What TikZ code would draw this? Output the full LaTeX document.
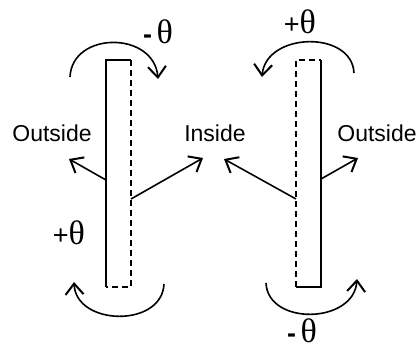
\documentclass[tikz,border=0pt]{standalone}
\usepackage{fontspec}
\setmainfont{Liberation Sans}
\newfontfamily\thetafont{Liberation Serif}
\usetikzlibrary{arrows.meta}

\begin{document}
\begin{tikzpicture}[
  x=0.5pt, y=-0.5pt,
  >={Straight Barb[length=5.5pt,width=9pt,line width=1pt]},
  slabline/.style={line width=1pt},
  slabdash/.style={line width=1pt, dash pattern=on 3pt off 2pt},
  ray/.style={->, line width=0.8pt},
  spin/.style={->, line width=0.8pt},
  lbl/.style={inner sep=0pt, font=\fontsize{11.5}{13}\selectfont},
  ang/.style={inner sep=0pt, font=\fontsize{13.5}{15}\selectfont},
]
\useasboundingbox (0,0) rectangle (420,348);

% left slab (solid outside, dashed inside)
\coordinate (L1) at (106,60);
\coordinate (L2) at (131,60);
\coordinate (L3) at (131,287);
\coordinate (L4) at (106,287);
\draw[slabline] (L4) -- (L1) -- (L2);
\draw[slabdash] (L2) -- (L3) -- (L4);

% right slab (mirror)
\coordinate (R1) at (296,60);
\coordinate (R2) at (321,60);
\coordinate (R3) at (321,287);
\coordinate (R4) at (296,287);
\draw[slabline] (R2) -- (R3) -- (R4);
\draw[slabdash] (R4) -- (R1) -- (R2);

% side labels
\node[lbl] (outL) at (52,133) {Outside};
\node[lbl] (ins)  at (215,133) {Inside};
\node[lbl] (outR) at (377,133) {Outside};

% normals
\coordinate (aL) at (106,180);  \coordinate (tL) at (69,159);
\coordinate (bL) at (131,199);  \coordinate (uL) at (203,158);
\coordinate (aR) at (296,199);  \coordinate (tR) at (224,159);
\coordinate (bR) at (321,179);  \coordinate (uR) at (358,158);
\draw[ray] (aL) -- (tL);
\draw[ray] (bL) -- (uL);
\draw[ray] (aR) -- (tR);
\draw[ray] (bR) -- (uR);

% rotations
\coordinate (s1) at (70,77);   \coordinate (e1) at (158,79);
\coordinate (s2) at (164,284); \coordinate (e2) at (74,282);
\coordinate (s3) at (354,73);  \coordinate (e3) at (262,77);
\coordinate (s4) at (266,283); \coordinate (e4) at (357,279);
\draw[spin] (s1) .. controls (72,31) and (154,31) .. (e1);
\draw[spin] (s2) .. controls (162,328) and (76,326) .. (e2);
\draw[spin] (s3) .. controls (352,30) and (266,32) .. (e3);
\draw[spin] (s4) .. controls (268,326) and (354,324) .. (e4);

% angles
\node[ang] (m1) at (158,32) {\textbf{-}\,{\thetafont\fontsize{17}{18}\selectfont θ}};
\node[ang] (p1) at (69,233) {+{\thetafont\fontsize{17}{18}\selectfont θ}};
\node[ang] (p2) at (300,22) {+{\thetafont\fontsize{17}{18}\selectfont θ}};
\node[ang] (m2) at (302,331) {\textbf{-}\,{\thetafont\fontsize{17}{18}\selectfont θ}};

\end{tikzpicture}
\end{document}
